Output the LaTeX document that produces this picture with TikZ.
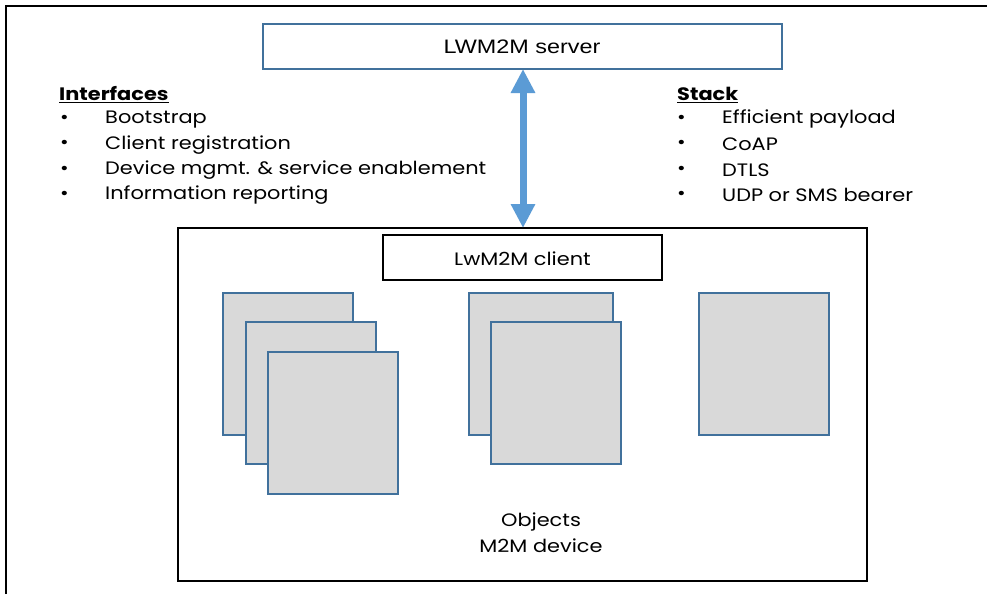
\documentclass[tikz,border=0pt]{standalone}
\usepackage{fontspec}
\usepackage{graphicx}
\setmainfont{Poppins}
\newfontfamily\arialfont{Liberation Sans}
\usetikzlibrary{arrows.meta}
\definecolor{objblue}{HTML}{41719C}
\definecolor{objfill}{HTML}{D9D9D9}
\definecolor{arrowblue}{HTML}{5B9BD5}
\newcommand\hs[1]{\scalebox{1.16}[1]{#1}}
\tikzset{
  base/.style={inner sep=0pt, outer sep=0pt, anchor=north west},
  serverbox/.style={base, draw=objblue, line width=1.3pt, fill=white},
  blackbox/.style={base, draw=black, line width=1.6pt, fill=white},
  objbox/.style={base, draw=objblue, line width=2.2pt, fill=objfill, minimum width=130pt, minimum height=142pt},
  lbl/.style={font=\fontsize{18}{25}\selectfont, inner sep=0pt},
  listtext/.style={lbl, anchor=west},
  bigarrow/.style={arrowblue, line width=7pt, {Triangle[width=23pt,length=24pt]}-{Triangle[width=23pt,length=24pt]}}
}
\begin{document}
\begin{tikzpicture}[x=1pt,y=-1pt]
\useasboundingbox (0,0) rectangle (987,594);
\fill[white] (0,0) rectangle (987,594);
% outer frame (partly cut)
\coordinate (fa) at (6,594);
\coordinate (fb) at (6,6);
\coordinate (fc) at (987,6);
\draw[line width=1.6pt] (fa) -- (fb) -- (fc);
% server
\node[serverbox, minimum width=519pt, minimum height=45pt] (server) at (263,24) {};
\node[inner sep=0pt, font=\arialfont\fontsize{19.5}{24}\selectfont] (servertxt) at (522,46.5) {\scalebox{1.2}[1]{LWM2M server}};
% device
\node[blackbox, minimum width=689pt, minimum height=353pt] (device) at (178,228) {};
\node[blackbox, minimum width=279pt, minimum height=45pt] (client) at (383,235) {};
\node[lbl] (clienttxt) at (522.5,258.5) {\hs{LwM2M client}};
% connector
\draw[bigarrow] (server.south -| 523,0) -- (device.north -| 523,0);
% objects
\node[objbox] (o1) at (223,293) {};
\node[objbox] (o2) at (246,322) {};
\node[objbox] (o3) at (268,352) {};
\node[objbox, minimum width=144pt] (o4) at (469,293) {};
\node[objbox] (o5) at (491,322) {};
\node[objbox] (o6) at (699,293) {};
\node[lbl] (objtxt) at (541,522) {\hs{Objects}};
\node[lbl] (devtxt) at (541,546) {\hs{M2M device}};
% interfaces
\node[listtext] (ih) at (59,95) {\hs{\underline{\textbf{Interfaces}}}};
\foreach \t [count=\i] in {Bootstrap, Client registration, Device mgmt. \& service enablement, Information reporting}{
  \node[listtext] (ib\i) at (60,94+25.3*\i) {\hs{•}};
  \node[listtext] (it\i) at (105,94+25.3*\i) {\hs{\t}};
}
% stack
\node[listtext] (sh) at (677,95) {\hs{\underline{\textbf{Stack}}}};
\foreach \t [count=\i] in {Efficient payload, CoAP, DTLS, UDP or SMS bearer}{
  \node[listtext] (sb\i) at (677,94+25.3*\i) {\hs{•}};
  \node[listtext] (st\i) at (722,94+25.3*\i) {\hs{\t}};
}
\end{tikzpicture}
\end{document}
